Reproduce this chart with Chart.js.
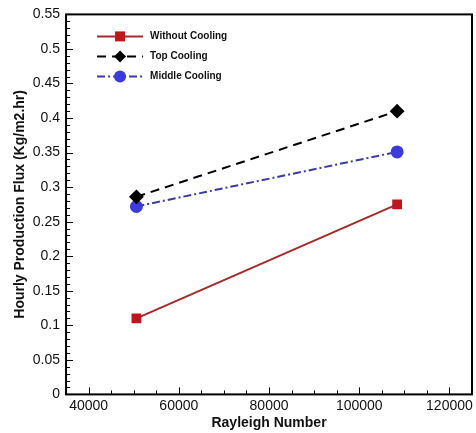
<!DOCTYPE html>
<html>
<head>
<meta charset="utf-8">
<script src="https://cdn.jsdelivr.net/npm/chart.js@4"></script>
<style>
  html, body { margin: 0; padding: 0; background: #fff; }
  #wrap { width: 476px; height: 433px; }
</style>
</head>
<body>
<div id="wrap"><canvas id="myChart"></canvas></div>
<script>
// data
const rayleigh = [50600, 108400];
const withoutCooling = [0.11, 0.275];
const topCooling = [0.286, 0.41];
const middleCooling = [0.272, 0.351];
const xTicks = [40000, 60000, 80000, 100000, 120000];
const yTicks = [0, 0.05, 0.1, 0.15, 0.2, 0.25, 0.3, 0.35, 0.4, 0.45, 0.5, 0.55];
const seriesNames = ["Without Cooling", "Top Cooling", "Middle Cooling"];

function toPoints(vals) {
    return vals.map((v, i) => ({ x: rayleigh[i], y: v }));
}

// frame, inward ticks and the legend inside the plot
const framePlugin = {
    id: 'frame',
    afterDraw(chart) {
        const ctx = chart.ctx;
        const a = chart.chartArea;
        const xs = chart.scales.x, ys = chart.scales.y;
        ctx.save();
        ctx.strokeStyle = '#000';
        ctx.lineWidth = 2;
        ctx.strokeRect(a.left, a.top, a.right - a.left, a.bottom - a.top);

        ctx.lineWidth = 1;
        ctx.beginPath();
        for (let v = 35000; v <= 125000; v += 5000) {
            const px = Math.round(xs.getPixelForValue(v)) + 0.5;
            const len = (v % 20000 === 0) ? 7 : 4;
            ctx.moveTo(px, a.bottom);
            ctx.lineTo(px, a.bottom - len);
        }
        for (let i = 0; i <= 55; i++) {
            const py = Math.round(ys.getPixelForValue(i / 100)) + 0.5;
            const len = (i % 5 === 0) ? 7 : 4;
            ctx.moveTo(a.left, py);
            ctx.lineTo(a.left + len, py);
        }
        ctx.stroke();

        // legend
        const x0 = a.left + 31, x1 = a.left + 77;
        let y = a.top + 22;
        chart.data.datasets.forEach(ds => {
            ctx.strokeStyle = ds.borderColor;
            ctx.lineWidth = 2;
            ctx.setLineDash(ds.borderDash || []);
            ctx.beginPath();
            ctx.moveTo(x0, y);
            ctx.lineTo(x1, y);
            ctx.stroke();
            ctx.setLineDash([]);
            const mx = (x0 + x1) / 2;
            ctx.fillStyle = ds.pointBackgroundColor;
            ctx.beginPath();
            if (ds.pointStyle === 'rect') {
                ctx.rect(mx - 5, y - 5, 10, 10);
            } else if (ds.pointStyle === 'rectRot') {
                ctx.moveTo(mx, y - 6); ctx.lineTo(mx + 6, y); ctx.lineTo(mx, y + 6); ctx.lineTo(mx - 6, y);
                ctx.closePath();
            } else {
                ctx.arc(mx, y, 6, 0, Math.PI * 2);
            }
            ctx.fill();
            ctx.fillStyle = '#111';
            ctx.font = 'bold 10px "Liberation Sans", Arial, sans-serif';
            ctx.textBaseline = 'middle';
            ctx.fillText(ds.label, x1 + 7, y);
            y += 20;
        });
        ctx.restore();
    }
};

const ctx1 = document.getElementById('myChart');
new Chart(ctx1, {
    type: 'line',
    data: {
        datasets: [
            {
                label: seriesNames[0],
                data: toPoints(withoutCooling),
                borderColor: '#a52a2a',
                borderWidth: 2,
                pointStyle: 'rect',
                pointRadius: 5.5,
                pointBackgroundColor: '#c0161b',
                pointBorderColor: '#c0161b',
            },
            {
                label: seriesNames[1],
                data: toPoints(topCooling),
                borderColor: '#000',
                borderWidth: 2,
                borderDash: [9, 6],
                pointStyle: 'rectRot',
                pointRadius: 6,
                pointBackgroundColor: '#000',
                pointBorderColor: '#000',
            },
            {
                label: seriesNames[2],
                data: toPoints(middleCooling),
                borderColor: '#3a3aa8',
                borderWidth: 2,
                borderDash: [8, 3, 2, 3],
                pointStyle: 'circle',
                pointRadius: 5.5,
                pointBackgroundColor: '#3a3ae0',
                pointBorderColor: '#3a3ae0',
            }
        ]
    },
    options: {
        responsive: true,
        maintainAspectRatio: false,
        animation: false,
        layout: { autoPadding: false, padding: { top: 13, right: 4, bottom: 1, left: 12 } },
        plugins: {
            legend: { display: false },
            tooltip: { enabled: false }
        },
        scales: {
            x: {
                type: 'linear',
                min: 35000,
                max: 125000,
                afterBuildTicks: s => { s.ticks = xTicks.map(v => ({ value: v })); },
                afterFit: s => { s.paddingRight = 0; },
                grid: { display: false, drawTicks: false },
                border: { display: false },
                ticks: {
                    color: '#111',
                    padding: 3,
                    maxRotation: 0,
                    font: { size: 14, family: '"Liberation Sans", Arial, sans-serif' },
                    callback: v => String(v)
                },
                title: {
                    display: true,
                    text: 'Rayleigh Number',
                    color: '#111',
                    padding: { top: -2, bottom: 0 },
                    font: { size: 14, weight: 'bold', family: '"Liberation Sans", Arial, sans-serif' }
                }
            },
            y: {
                type: 'linear',
                min: 0,
                max: 0.55,
                afterBuildTicks: s => { s.ticks = yTicks.map(v => ({ value: v })); },
                grid: { display: false, drawTicks: false },
                border: { display: false },
                ticks: {
                    color: '#111',
                    padding: 6,
                    font: { size: 14, family: '"Liberation Sans", Arial, sans-serif' },
                    callback: v => String(Math.round(v * 100) / 100)
                },
                title: {
                    display: true,
                    text: 'Hourly Production Flux (Kg/m2.hr)',
                    color: '#111',
                    padding: { top: 0, bottom: -2 },
                    font: { size: 14, weight: 'bold', family: '"Liberation Sans", Arial, sans-serif' }
                }
            }
        }
    },
    plugins: [framePlugin]
});
</script>
</body>
</html>
